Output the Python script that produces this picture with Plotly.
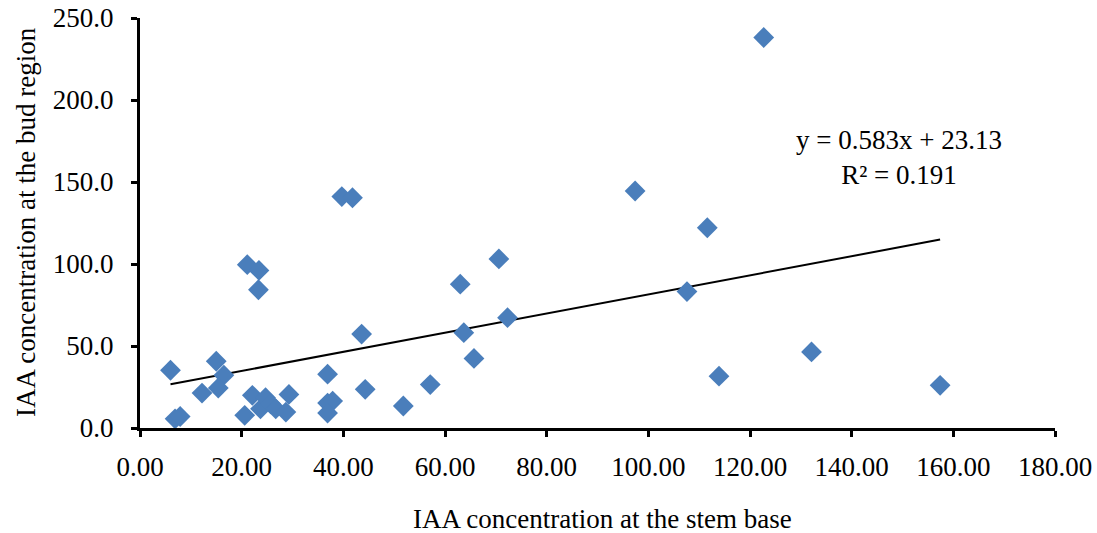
import plotly.graph_objects as go

# IAA concentration at the stem base (x) and at the bud region (y)
stem_base = [6.0, 6.9, 7.9, 12.2, 15.0, 16.5, 15.4, 20.6, 21.1, 23.4, 23.3, 22.1, 23.7, 24.7,
             25.7, 26.7, 28.7, 29.3, 36.9, 36.9, 37.9, 36.9, 39.7, 41.8, 43.6, 44.3, 51.8,
             57.1, 63.0, 63.7, 65.7, 70.6, 72.3, 97.4, 107.6, 111.6, 113.9, 122.7, 132.1, 157.4]
bud_region = [35.2, 5.6, 7.0, 21.3, 40.7, 32.2, 24.4, 7.7, 99.6, 96.1, 84.3, 19.9, 11.7, 18.5,
              14.8, 11.7, 9.7, 20.5, 32.8, 15.2, 16.4, 9.1, 141.1, 140.4, 57.3, 23.6, 13.4,
              26.5, 87.7, 58.1, 42.4, 103.1, 67.3, 144.5, 83.2, 122.1, 31.6, 238.1, 46.4, 26.0]

# Linear trendline as reported on the chart
slope = 0.583
intercept = 23.13
r_squared = 0.191

x_ticks = [0, 20, 40, 60, 80, 100, 120, 140, 160, 180]
y_ticks = [0, 50, 100, 150, 200, 250]

FONT = "Liberation Serif, Times New Roman, serif"

trend_x = [min(stem_base), max(stem_base)]
trend_y = [slope * v + intercept for v in trend_x]

L, R, T, B = 140, 42, 18, 105
W, H = 1097, 533
PW, PH = W - L - R, H - T - B

fig = go.Figure()
fig.add_trace(go.Scatter(
    x=trend_x, y=trend_y, mode="lines",
    line=dict(color="black", width=2), showlegend=False, hoverinfo="skip"))
fig.add_trace(go.Scatter(
    x=stem_base, y=bud_region, mode="markers",
    marker=dict(symbol="diamond", size=16, color="#4A7EBB",
                line=dict(width=0)),
    cliponaxis=False, showlegend=False))

fig.update_layout(
    width=W, height=H,
    margin=dict(l=L, r=R, t=T, b=B, autoexpand=False),
    paper_bgcolor="white", plot_bgcolor="white",
    font=dict(family=FONT, size=27, color="black"),
    xaxis=dict(range=[0, 180], tickvals=x_ticks, tickformat=".2f",
               showgrid=False, zeroline=False, showline=True, automargin=False,
               linecolor="black", linewidth=3, ticks="outside",
               ticklen=6, tickwidth=3, tickcolor="black",
               ticklabelstandoff=7,
               tickfont=dict(family=FONT, size=27, color="black")),
    yaxis=dict(range=[0, 250], tickvals=y_ticks, tickformat=".1f",
               showgrid=False, zeroline=False, showline=True, automargin=False,
               linecolor="black", linewidth=3, ticks="outside",
               ticklen=6, tickwidth=3, tickcolor="black",
               ticklabelstandoff=12,
               tickfont=dict(family=FONT, size=27, color="black")),
    annotations=[
        dict(text="IAA concentration at the stem base", xref="paper", yref="paper",
             x=(602 - L) / PW, y=(H - B - 519) / PH, xanchor="center", yanchor="middle",
             showarrow=False, font=dict(family=FONT, size=27, color="black")),
        dict(text="IAA concentration at the bud region", xref="paper", yref="paper",
             x=(26 - L) / PW, y=(H - B - 222) / PH, xanchor="center", yanchor="middle",
             showarrow=False, textangle=-90,
             font=dict(family=FONT, size=27, color="black")),
        dict(text=f"y = {slope}x + {intercept}<br>R² = {r_squared}",
             xref="paper", yref="paper", x=(899 - L) / PW,
             y=(H - B - 157) / PH, xanchor="center", yanchor="middle",
             align="center", showarrow=False,
             font=dict(family=FONT, size=27, color="black")),
    ],
)

fig.write_html("out.html")
